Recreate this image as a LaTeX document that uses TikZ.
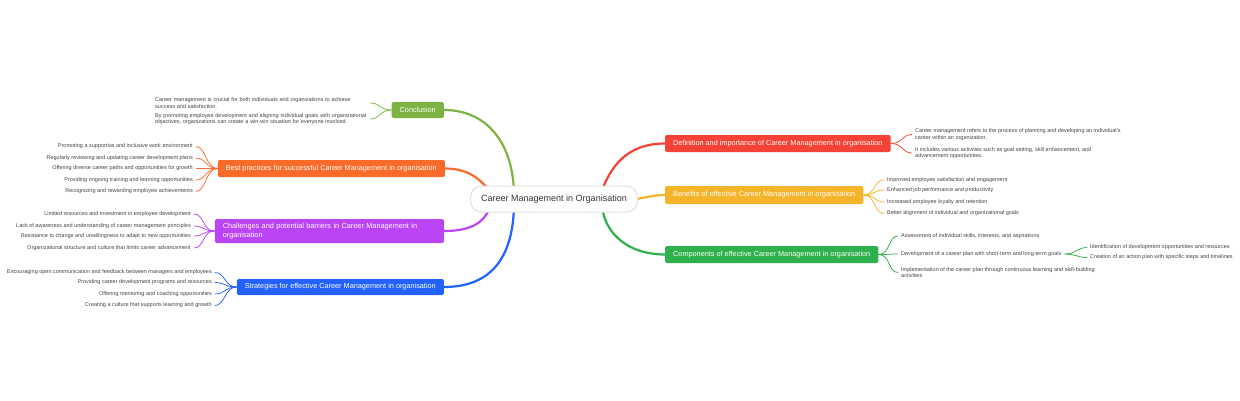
\documentclass[tikz,border=0pt]{standalone}
\usepackage{fontspec}
\setmainfont{Liberation Sans}
\usetikzlibrary{calc}
\pgfdeclarelayer{bg}
\pgfdeclarelayer{paper}
\pgfsetlayers{paper,bg,main}
\definecolor{cConc}{HTML}{7CB342}
\definecolor{cBest}{HTML}{FA6B2A}
\definecolor{cChal}{HTML}{BB44F7}
\definecolor{cStrat}{HTML}{2462FF}
\definecolor{cDef}{HTML}{F44336}
\definecolor{cBen}{HTML}{F6B42A}
\definecolor{cComp}{HTML}{2EB04C}
\definecolor{leaftext}{HTML}{454545}
\definecolor{centertext}{HTML}{333333}
\tikzset{
  centerbox/.style={draw=black!12, line width=1pt, fill=white, rounded corners=11pt,
    minimum width=167pt, minimum height=26pt, inner sep=0pt, text=centertext,
    font=\fontsize{9}{10}\selectfont},
  branchbox/.style={fill=#1, rounded corners=1.5pt, text=white, inner xsep=8pt, inner ysep=0pt,
    minimum height=17pt, font=\fontsize{7.3}{9}\selectfont},
  leaf/.style={inner sep=0pt, text=leaftext, font=\fontsize{5.5}{6.6}\selectfont},
  mainline/.style={draw=#1, line width=2.2pt, line cap=round},
  leafline/.style={draw=#1, line width=0.75pt},
}
\begin{document}
\begin{tikzpicture}[x=1pt,y=-1pt]
\begin{pgfonlayer}{paper}
\fill[white] (0,0) rectangle (1240,400);
\end{pgfonlayer}
\useasboundingbox (0,0) rectangle (1240,400);

% center
\node[centerbox] (c) at (554,199) {Career Management in Organisation};

% branches
\node[branchbox=cConc, anchor=east, minimum height=16pt] (conc) at (444,110) {Conclusion};
\node[branchbox=cBest, anchor=east] (best) at (445,168.5) {Best practices for successful Career Management in organisation};
\node[branchbox=cChal, anchor=east, minimum height=24pt, text width=213pt, align=left] (chal) at (444,231) {Challenges and potential barriers in Career Management in\\organisation};
\node[branchbox=cStrat, anchor=east, minimum height=16pt] (strat) at (444,287) {Strategies for effective Career Management in organisation};
\node[branchbox=cDef, anchor=west] (defn) at (665,143.5) {Definition and importance of Career Management in organisation};
\node[branchbox=cBen, anchor=west, minimum height=18pt] (bene) at (665,195) {Benefits of effective Career Management in organisation};
\node[branchbox=cComp, anchor=west] (comp) at (665,254.5) {Components of effective Career Management in organisation};

% main connectors
\begin{pgfonlayer}{bg}
\draw[mainline=cConc] (conc.east) .. controls +(45,0) and +(0,-50) .. ($(c.center)+(-40,-3)$);
\draw[mainline=cBest] (best.east) .. controls +(28,0) and +(-10,-12) .. ($(c.center)+(-60,-3)$);
\draw[mainline=cChal] (chal.east) .. controls +(35,0) and +(-5,15) .. ($(c.center)+(-62,3)$);
\draw[mainline=cStrat] (strat.east) .. controls +(55,0) and +(0,45) .. ($(c.center)+(-40,3)$);
\draw[mainline=cDef] (defn.west) .. controls +(-38,0) and +(10,-30) .. ($(c.center)+(46,-3)$);
\draw[mainline=cBen] (bene.west) .. controls +(-15,0) and +(15,0) .. ($(c.center)+(70,1)$);
\draw[mainline=cComp] (comp.west) .. controls +(-40,0) and +(0,28) .. ($(c.center)+(48,3)$);
\end{pgfonlayer}

% conclusion leaves
\node[leaf, anchor=west, text width=213pt, align=left] (cl1) at (155,103) {Career management is crucial for both individuals and organizations to achieve\\success and satisfaction.};
\node[leaf, anchor=west, text width=213pt, align=left] (cl2) at (155,119) {By promoting employee development and aligning individual goals with organizational\\objectives, organizations can create a win-win situation for everyone involved.};
\foreach \n in {cl1,cl2}
  \draw[leafline=cConc] (conc.west) .. controls +(-12,0) and +(10,0) .. ($(\n.east)+(2,0)$);

% best practices leaves
\node[leaf, anchor=east] (b1) at (193,146.5) {Promoting a supportive and inclusive work environment};
\node[leaf, anchor=east] (b2) at (193,158) {Regularly reviewing and updating career development plans};
\node[leaf, anchor=east] (b3) at (193,168.5) {Offering diverse career paths and opportunities for growth};
\node[leaf, anchor=east] (b4) at (193,180) {Providing ongoing training and learning opportunities};
\node[leaf, anchor=east] (b5) at (193,191.5) {Recognizing and rewarding employee achievements};
\foreach \n in {b1,b2,b3,b4,b5}
  \draw[leafline=cBest] (best.west) .. controls +(-12,0) and +(10,0) .. ($(\n.east)+(3,0)$);

% challenges leaves
\node[leaf, anchor=east] (h1) at (191,214) {Limited resources and investment in employee development};
\node[leaf, anchor=east] (h2) at (191,226) {Lack of awareness and understanding of career management principles};
\node[leaf, anchor=east] (h3) at (191,236) {Resistance to change and unwillingness to adapt to new opportunities};
\node[leaf, anchor=east] (h4) at (191,248) {Organizational structure and culture that limits career advancement};
\foreach \n in {h1,h2,h3,h4}
  \draw[leafline=cChal] (chal.west) .. controls +(-12,0) and +(10,0) .. ($(\n.east)+(3,0)$);

% strategies leaves
\node[leaf, anchor=east] (s1) at (212,272.5) {Encouraging open communication and feedback between managers and employees};
\node[leaf, anchor=east] (s2) at (212,282.5) {Providing career development programs and resources};
\node[leaf, anchor=east] (s3) at (212,294) {Offering mentoring and coaching opportunities};
\node[leaf, anchor=east] (s4) at (212,305.5) {Creating a culture that supports learning and growth};
\foreach \n in {s1,s2,s3,s4}
  \draw[leafline=cStrat] (strat.west) .. controls +(-12,0) and +(10,0) .. ($(\n.east)+(3,0)$);

% definition leaves
\node[leaf, anchor=west, align=left] (d1) at (915,134.5) {Career management refers to the process of planning and developing an individual's\\career within an organization.};
\node[leaf, anchor=west, align=left] (d2) at (915,153) {It includes various activities such as goal setting, skill enhancement, and\\advancement opportunities.};
\foreach \n in {d1,d2}
  \draw[leafline=cDef] (defn.east) .. controls +(12,0) and +(-10,0) .. ($(\n.west)+(-3,0)$);

% benefits leaves
\node[leaf, anchor=west] (e1) at (887,180) {Improved employee satisfaction and engagement};
\node[leaf, anchor=west] (e2) at (887,190) {Enhanced job performance and productivity};
\node[leaf, anchor=west] (e3) at (887,202) {Increased employee loyalty and retention};
\node[leaf, anchor=west] (e4) at (887,213.5) {Better alignment of individual and organizational goals};
\foreach \n in {e1,e2,e3,e4}
  \draw[leafline=cBen] (bene.east) .. controls +(12,0) and +(-10,0) .. ($(\n.west)+(-3,0)$);

% components leaves
\node[leaf, anchor=west] (p1) at (901,236) {Assessment of individual skills, interests, and aspirations};
\node[leaf, anchor=west] (p2) at (901,254) {Development of a career plan with short-term and long-term goals};
\node[leaf, anchor=west, align=left] (p3) at (901,272.5) {Implementation of the career plan through continuous learning and skill-building\\activities};
\foreach \n in {p1,p2,p3}
  \draw[leafline=cComp] (comp.east) .. controls +(12,0) and +(-10,0) .. ($(\n.west)+(-3,0)$);

\node[leaf, anchor=west] (q1) at (1090,247.5) {Identification of development opportunities and resources};
\node[leaf, anchor=west] (q2) at (1090,257.5) {Creation of an action plan with specific steps and timelines};
\foreach \n in {q1,q2}
  \draw[leafline=cComp] ($(p2.east)+(3,0)$) .. controls +(12,0) and +(-10,0) .. ($(\n.west)+(-3,0)$);
\end{tikzpicture}
\end{document}
